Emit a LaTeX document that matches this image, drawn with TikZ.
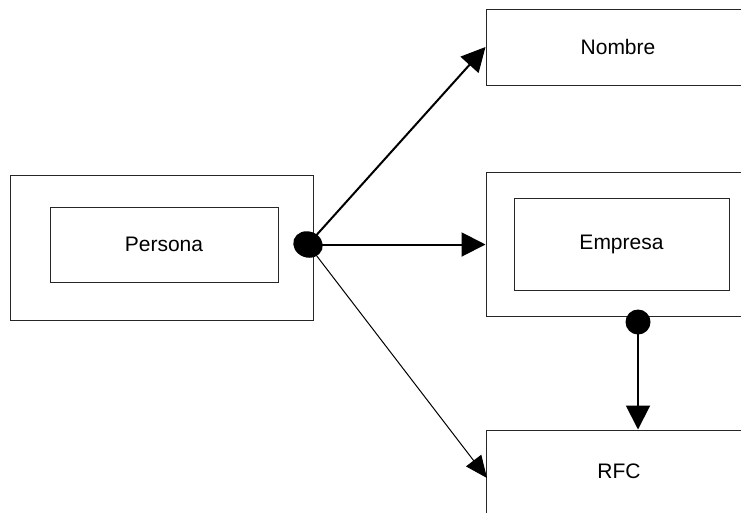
\documentclass[tikz,border=0pt]{standalone}
\usepackage{fontspec}
\setmainfont{Liberation Sans}
\usetikzlibrary{arrows.meta,shapes.geometric}
\begin{document}
\begin{tikzpicture}[x=1pt,y=-1pt,
  box/.style={draw=black!85, line width=1pt, rectangle, inner sep=0pt, font=\fontsize{21}{24}\selectfont},
  dot/.style={fill=black, circle, inner sep=0pt, minimum size=25pt},
  thick arrow/.style={line width=2pt, -{Triangle[length=24pt,width=24pt]}},
  thin arrow/.style={line width=1pt, -{Triangle[length=22pt,width=19pt]}}]
\useasboundingbox (0,0) rectangle (741,512);
\clip (0,0) rectangle (741,512);
% Persona
\node[box, minimum width=303pt, minimum height=145pt] (pout) at (161.5,247.5) {};
\node[box, minimum width=228pt, minimum height=75pt] (pin) at (164,244.5) {Persona};
% Nombre
\node[box, minimum width=264pt, minimum height=76pt] (nombre) at (618,47) {Nombre};
% Empresa
\node[box, minimum width=271pt, minimum height=144pt] (eout) at (621.5,244.5) {};
\node[box, minimum width=215pt, minimum height=92pt] (ein) at (621.5,244) {Empresa};
% RFC
\node[box, minimum width=266pt, minimum height=96pt] (rfc) at (619,478) {};
\node[font=\fontsize{21}{24}\selectfont, inner sep=0pt] (rfct) at (619,471) {RFC};
\coordinate (rfcin) at (487,478);
% dots
\node[fill=black, ellipse, inner sep=0pt, minimum width=30pt, minimum height=26pt, rotate=-20] (pdot) at (308,244.5) {};
\node[dot] (edot) at (638,322) {};
% connectors
\draw[thick arrow] (pdot.center) -- (nombre.west);
\draw[thick arrow] (pdot.center) -- (eout.west);
\draw[thin arrow] (pdot.center) -- (rfcin);
\draw[thick arrow] (edot.center) -- (edot |- rfc.north);
\end{tikzpicture}
\end{document}
